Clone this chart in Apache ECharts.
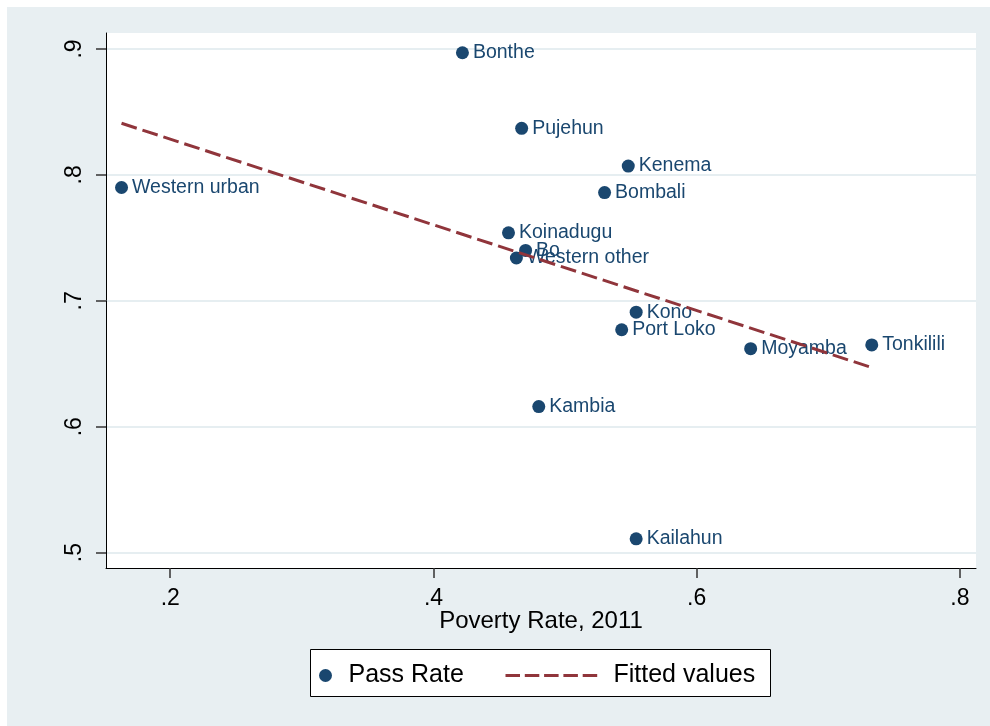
<!DOCTYPE html>
<html>
<head>
<meta charset="utf-8">
<script src="https://cdn.jsdelivr.net/npm/echarts@6/dist/echarts.min.js"></script>
<style>
  html, body { margin: 0; padding: 0; background: #fff; }
  #chart { width: 990px; height: 726px; }
</style>
</head>
<body>
<div id="chart"></div>
<script>
// District-level data: poverty rate (2011) against exam pass rate
const districts = ['Bonthe', 'Pujehun', 'Kenema', 'Bombali', 'Western urban', 'Koinadugu', 'Bo',
  'Western other', 'Kono', 'Port Loko', 'Kambia', 'Moyamba', 'Tonkilili', 'Kailahun'];
const povertyRate = [0.422, 0.467, 0.548, 0.530, 0.163, 0.457, 0.470,
  0.463, 0.554, 0.543, 0.480, 0.641, 0.733, 0.554];
const passRate = [0.897, 0.837, 0.807, 0.786, 0.790, 0.754, 0.740,
  0.734, 0.691, 0.677, 0.616, 0.662, 0.665, 0.511];

// Linear fit, drawn between its two end points
const fitX = [0.163, 0.733];
const fitY = [0.841, 0.647];

// Axis tick labels
const xTicks = [0.2, 0.4, 0.6, 0.8];
const yTicks = [0.5, 0.6, 0.7, 0.8, 0.9];

const FONT = '"Liberation Sans", Arial, Helvetica, sans-serif';
const NAVY = '#1a476f';
const CRANBERRY = '#90353b';
const BG = '#e8eff2';

const fmt = v => Number(v).toFixed(1).replace(/^0/, '');

const chart = echarts.init(document.getElementById('chart'), null, { renderer: 'canvas' });

chart.setOption({
  backgroundColor: '#ffffff',
  animation: false,
  textStyle: { fontFamily: FONT },
  graphic: [
    {
      type: 'rect', z: -10, silent: true,
      shape: { x: 7, y: 7, width: 990, height: 726 },
      style: { fill: BG }
    },
    {
      type: 'rect', z: 1, silent: true,
      shape: { x: 310.5, y: 649.5, width: 460, height: 47 },
      style: { fill: '#ffffff', stroke: '#000000', lineWidth: 1 }
    }
  ],
  grid: {
    left: 106, right: 14, top: 33, bottom: 158,
    show: true, backgroundColor: '#ffffff', borderWidth: 0
  },
  xAxis: {
    type: 'value',
    min: 0.1512, max: 0.8122,
    name: 'Poverty Rate, 2011',
    nameLocation: 'middle',
    nameGap: 41,
    nameMoveOverlap: false,
    nameTextStyle: { fontSize: 24, color: '#000', fontFamily: FONT, verticalAlign: 'top' },
    axisLine: { show: true, onZero: false, lineStyle: { color: '#000', width: 1 } },
    axisTick: { show: true, length: 10, customValues: xTicks, lineStyle: { color: '#333', width: 1.5 } },
    axisLabel: { customValues: xTicks, formatter: fmt, fontSize: 23, color: '#000', margin: 19, fontFamily: FONT },
    splitLine: { show: false }
  },
  yAxis: {
    type: 'value',
    min: 0.4878, max: 0.9127,
    axisLine: { show: true, onZero: false, lineStyle: { color: '#000', width: 1 } },
    axisTick: { show: true, length: 10, customValues: yTicks, lineStyle: { color: '#333', width: 1.5 } },
    axisLabel: { customValues: yTicks, formatter: fmt, fontSize: 23, color: '#000', margin: 20, rotate: 90, fontFamily: FONT },
    splitLine: { show: true, lineStyle: { color: '#e6eef1', width: 2 } }
  },
  legend: [
    {
      data: ['Pass Rate'],
      left: 319, top: 663,
      itemWidth: 36, itemHeight: 13,
      padding: 0,
      textStyle: { fontSize: 25, color: '#000', fontFamily: FONT },
      z: 5
    },
    {
      data: ['Fitted values'],
      left: 504, top: 663,
      itemWidth: 93, itemHeight: 13,
      padding: 0,
      itemStyle: { opacity: 0 },
      lineStyle: { type: [14.5, 4.8], width: 3 },
      textStyle: { fontSize: 25, color: '#000', fontFamily: FONT, padding: [0, 0, 0, 10] },
      z: 5
    }
  ],
  series: [
    {
      name: 'Pass Rate',
      type: 'scatter',
      symbol: 'circle',
      symbolSize: 13,
      itemStyle: { color: NAVY, opacity: 1 },
      data: districts.map((d, i) => ({ name: d, value: [povertyRate[i], passRate[i]] })),
      label: {
        show: true,
        position: 'right',
        distance: 4,
        formatter: p => p.name,
        color: NAVY,
        fontSize: 19.5,
        fontFamily: FONT
      },
      z: 3
    },
    {
      name: 'Fitted values',
      type: 'line',
      showSymbol: false,
      symbol: 'none',
      data: fitX.map((x, i) => [x, fitY[i]]),
      lineStyle: { color: CRANBERRY, width: 3, type: [16, 6] },
      itemStyle: { color: CRANBERRY },
      z: 4
    }
  ]
});
</script>
</body>
</html>
